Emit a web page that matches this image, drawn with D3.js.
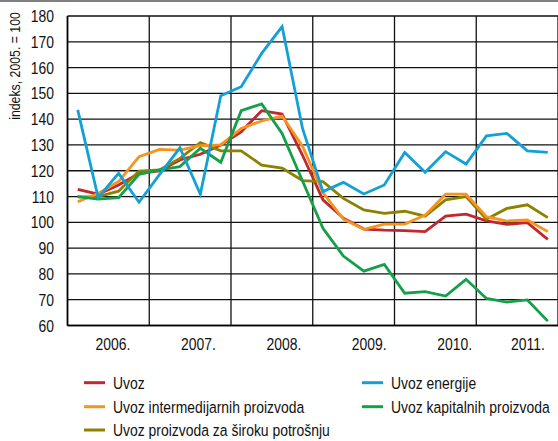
<!DOCTYPE html>
<html>
<head>
<meta charset="utf-8">
<script src="https://cdn.jsdelivr.net/npm/d3@7"></script>
<style>
body { margin: 0; background: #fff; }
svg { display: block; }
text { font-family: "Liberation Sans", Arial, sans-serif; fill: #111; }
</style>
</head>
<body>
<div id="chart"></div>
<script>
'use strict';

var years = [2006, 2007, 2008, 2009, 2010, 2011];
var yTicks = [60, 70, 80, 90, 100, 110, 120, 130, 140, 150, 160, 170, 180];
var yTitle = 'indeks, 2005. = 100';

// quarterly values, 2006 Q1 - 2011 Q4
var uvoz = [112.8, 110.9, 114.5, 119, 119.9, 124.2, 126.4, 130, 135.1, 143.3, 142, 126, 108.7, 101.6, 97.4, 97, 96.8, 96.4, 102.4, 103.2, 100.6, 99.2, 99.9, 93.4];
var intermedijarni = [108, 111.2, 115.8, 125.5, 128.3, 128, 129.7, 130, 136.4, 139.3, 141.2, 129.5, 111.5, 101.2, 97.3, 99.3, 99.3, 102.8, 110.9, 110.9, 102.2, 100.5, 100.9, 96.4];
var sirokaPotrosnja = [109.9, 110, 112.1, 119.9, 120.3, 124.8, 130.9, 127.7, 127.7, 122.2, 121, 116.2, 115.8, 109.3, 104.8, 103.5, 104.3, 102.4, 108.7, 110, 101.2, 105.4, 106.8, 101.8];
var energija = [143.6, 109.6, 119, 107.8, 118.5, 128.9, 110.9, 149.1, 152.6, 165.5, 175.9, 136.4, 111.9, 115.5, 111, 114.5, 127.1, 119.4, 127.4, 122.6, 133.5, 134.5, 127.7, 127.1];
var kapitalni = [110, 109, 109.6, 118.6, 120.3, 121.6, 128.7, 123.3, 143.3, 145.9, 134.5, 116, 97.7, 86.9, 81.1, 83.7, 72.5, 73.1, 71.4, 77.9, 70.5, 69.1, 69.9, 61.7];

var seriesNames = ['Uvoz', 'Uvoz intermedijarnih proizvoda', 'Uvoz proizvoda za široku potrošnju', 'Uvoz energije', 'Uvoz kapitalnih proizvoda'];
var seriesColors = ['#c1272d', '#f7941d', '#8c8200', '#12a0d7', '#13a049'];
var seriesValues = [uvoz, intermedijarni, sirokaPotrosnja, energija, kapitalni];

var chartW = 558, chartH = 441;
var plotL = 67.5, plotR = 558, plotT = 16, plotB = 325.5;

var svg = d3.select('#chart').append('svg')
	.attr('width', chartW)
	.attr('height', chartH);

var x = d3.scaleLinear().domain([2006, 2012]).range([plotL, plotR]);
var y = d3.scaleLinear().domain([60, 180]).range([plotB, plotT]);
var labelX = d3.scaleLinear().domain([2006, 2010]).range([113, 454.7]);

function qx(i) { return x(2006 + (i + 0.5) / 4); }

// condensed text: regular sans squeezed horizontally
function narrowText(px, py, str, size, anchor, rot) {
	return svg.append('text')
		.attr('transform', 'translate(' + px + ',' + py + ')' + (rot ? ' rotate(' + rot + ')' : '') + ' scale(0.82,1)')
		.attr('text-anchor', anchor || 'start')
		.attr('font-size', size)
		.text(str);
}

// top frame rule
svg.append('line')
	.attr('x1', 0).attr('x2', chartW)
	.attr('y1', 1).attr('y2', 1)
	.attr('stroke', '#555').attr('stroke-width', 1.5);

// grid
svg.selectAll('.hgrid').data(yTicks).enter().append('line')
	.attr('class', 'hgrid')
	.attr('x1', plotL).attr('x2', plotR)
	.attr('y1', function(d) { return y(d); })
	.attr('y2', function(d) { return y(d); })
	.attr('stroke', '#111').attr('stroke-width', 1.3);

svg.selectAll('.vgrid').data(years.concat([2012])).enter().append('line')
	.attr('class', 'vgrid')
	.attr('x1', function(d) { return x(d); })
	.attr('x2', function(d) { return x(d); })
	.attr('y1', plotT).attr('y2', plotB)
	.attr('stroke', '#111').attr('stroke-width', 1.3);

svg.append('line')
	.attr('x1', plotL).attr('x2', plotL)
	.attr('y1', plotT).attr('y2', plotB)
	.attr('stroke', '#000').attr('stroke-width', 1.6);
svg.append('line')
	.attr('x1', plotL).attr('x2', plotR)
	.attr('y1', plotB).attr('y2', plotB)
	.attr('stroke', '#000').attr('stroke-width', 1.6);

// y tick labels
yTicks.forEach(function(d) {
	narrowText(54, y(d) + 6, d, 17, 'end');
});

narrowText(20, 66, yTitle, 15, 'middle', -90);

// x labels
years.forEach(function(d) {
	narrowText(Math.min(labelX(d), chartW - 30), 350, d + '.', 17, 'middle');
});

// series lines
var line = d3.line()
	.x(function(d, i) { return qx(i); })
	.y(function(d) { return y(d); });

var drawOrder = [0, 2, 1, 4, 3];
drawOrder.forEach(function(k) {
	svg.append('path')
		.datum(seriesValues[k])
		.attr('d', line)
		.attr('fill', 'none')
		.attr('stroke', seriesColors[k])
		.attr('stroke-width', 2.8)
		.attr('stroke-linejoin', 'miter');
});

// legend
var legendPos = [[84, 382.7], [84, 406.7], [84, 430], [362, 382.7], [362, 406.7]];
seriesNames.forEach(function(name, k) {
	var p = legendPos[k];
	svg.append('line')
		.attr('x1', p[0]).attr('x2', p[0] + 21)
		.attr('y1', p[1]).attr('y2', p[1])
		.attr('stroke', seriesColors[k]).attr('stroke-width', 3);
	narrowText(p[0] + 29, p[1] + 6, name, 17, 'start');
});
</script>
</body>
</html>
